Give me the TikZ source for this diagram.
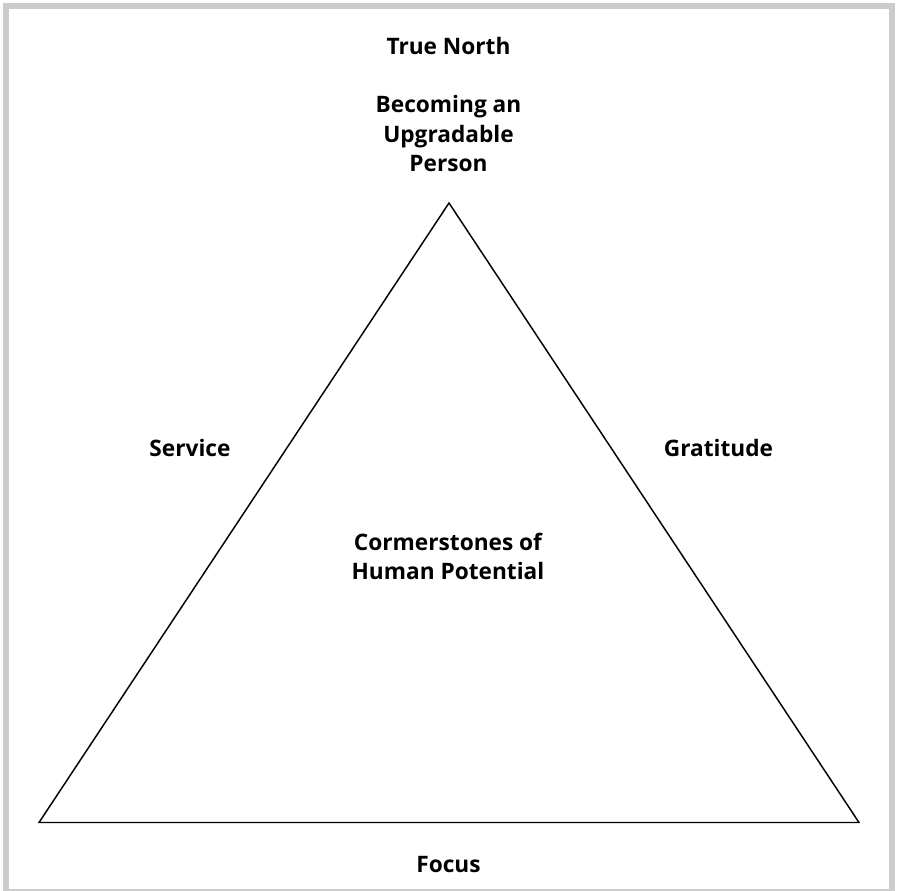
\documentclass[tikz,border=0pt]{standalone}
\usepackage{fontspec}
\setmainfont{Open Sans}
\begin{document}
\begin{tikzpicture}[x=0.75pt,y=-0.75pt,
  lbl/.style={font=\bfseries\fontsize{17}{22}\selectfont, align=center, anchor=base, inner sep=0pt}]
  \useasboundingbox (0,0) rectangle (897,891);
  % frame
  \draw[line width=4.2pt, gray!40] (5.8,5.8) rectangle (892,891.5);
  % triangle
  \coordinate (apex) at (449,203);
  \coordinate (lcorner) at (39,822.5);
  \coordinate (rcorner) at (859,822.5);
  \draw[line width=1.1pt] (apex) -- (lcorner) -- (rcorner) -- cycle;
  % labels (base = baseline of the last line)
  \node[lbl] (north) at (448.5,55) {True North};
  \node[lbl] (person) at (448.5,171.5) {Becoming an\\Upgradable\\Person};
  \node[lbl] (service) at (190,457) {Service};
  \node[lbl] (gratitude) at (718.5,457) {Gratitude};
  \node[lbl] (corner) at (448,580) {Cormerstones of\\Human Potential};
  \node[lbl] (focus) at (448.5,872.5) {Focus};
\end{tikzpicture}
\end{document}
